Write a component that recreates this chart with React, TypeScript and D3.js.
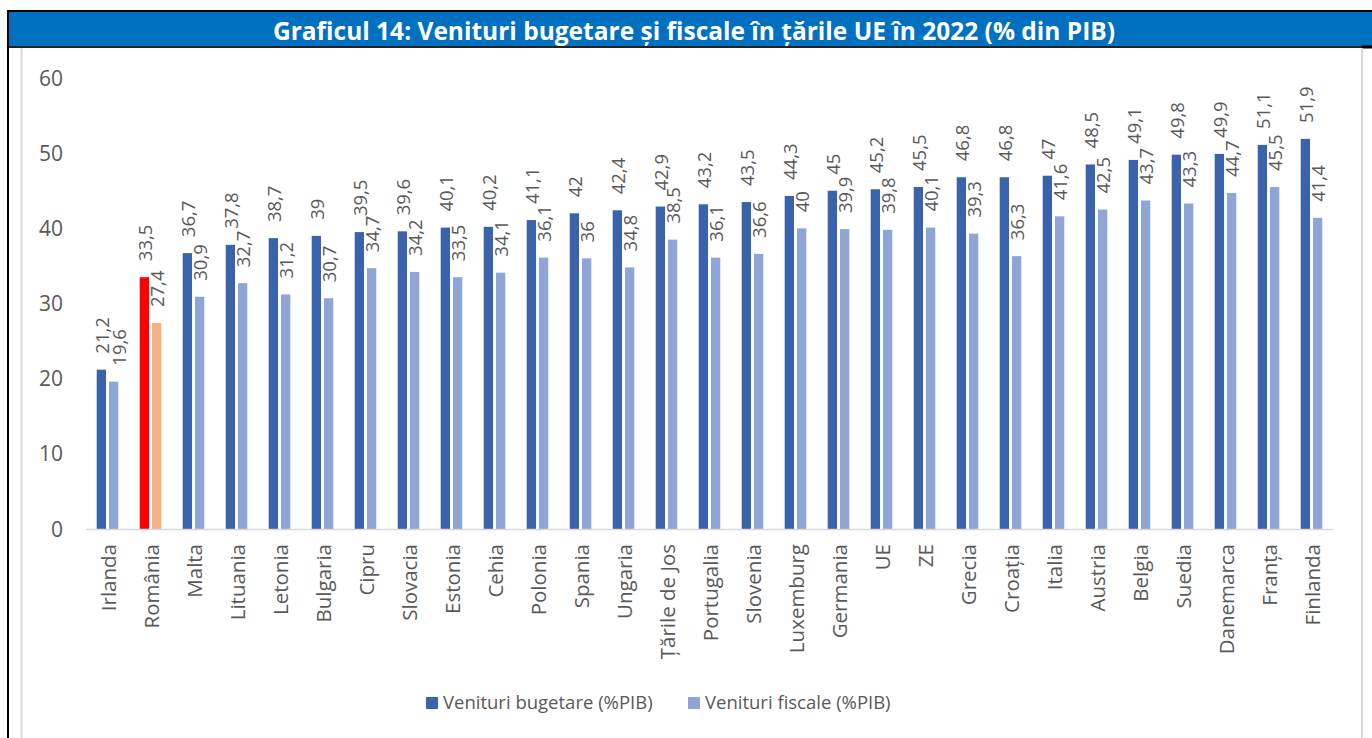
import React from "react";
import * as d3 from "d3";

const categories = ["Irlanda","România","Malta","Lituania","Letonia","Bulgaria","Cipru","Slovacia","Estonia","Cehia","Polonia","Spania","Ungaria","Țările de Jos","Portugalia","Slovenia","Luxemburg","Germania","UE","ZE","Grecia","Croația","Italia","Austria","Belgia","Suedia","Danemarca","Franța","Finlanda"];
const venituriBugetare = [21.2,33.5,36.7,37.8,38.7,39,39.5,39.6,40.1,40.2,41.1,42,42.4,42.9,43.2,43.5,44.3,45,45.2,45.5,46.8,46.8,47,48.5,49.1,49.8,49.9,51.1,51.9];
const venituriFiscale = [19.6,27.4,30.9,32.7,31.2,30.7,34.7,34.2,33.5,34.1,36.1,36,34.8,38.5,36.1,36.6,40,39.9,39.8,40.1,39.3,36.3,41.6,42.5,43.7,43.3,44.7,45.5,41.4];
const yTicks = [0,10,20,30,40,50,60];
const seriesNames = ["Venituri bugetare (%PIB)","Venituri fiscale (%PIB)"];
const title = "Graficul 14: Venituri bugetare și fiscale în țările UE în 2022 (% din PIB)";

const W = 1372, H = 738;
const FONT = "'Open Sans', sans-serif";
const TXT = "#595959";
const C_DARK = "#3B63AB";
const C_LIGHT = "#8FA5D5";
const C_RO_DARK = "#FF0000";
const C_RO_LIGHT = "#F4B183";
const LABEL_FS = 18.5;
const LABEL_GAP = 16;

const fmt = (v: number) => String(v).replace(".", ",");

export default function App() {
  const x = d3.scaleBand<string>().domain(categories).range([86, 1333]).paddingInner(0).paddingOuter(0);
  const keys = ["b", "f"];
  const x1 = d3.scaleBand<string>().domain(keys).range([0, 21.6]).paddingInner(0.24).paddingOuter(0);
  const y = d3.scaleLinear().domain([0, 60]).range([529, 78]);
  const half = x.bandwidth() / 2;
  const labelLen = (s: string) => s.length * LABEL_FS * 0.5;

  return (
    <div style={{ position: "absolute", left: 0, top: 0, width: W, height: H, background: "#fff" }}>
      <svg width={W} height={H} style={{ display: "block" }} fontFamily={FONT}>
        <rect x={0} y={0} width={W} height={H} fill="#fff" />
        {/* title bar */}
        <rect x={9} y={12} width={W - 9} height={34} fill="#0070C0" />
        <line x1={7} x2={W} y1={11} y2={11} stroke="#000" strokeWidth={2} />
        <line x1={8} x2={8} y1={10} y2={H} stroke="#000" strokeWidth={2} />
        <line x1={9} x2={1362} y1={47} y2={47} stroke="#222" strokeWidth={2} />
        <line x1={1362} x2={W} y1={47} y2={47} stroke="#000" strokeWidth={3} />
        <text x={694} y={39.5} textAnchor="middle" fill="#fff" fontWeight={700} fontSize={24.5}>{title}</text>
        {/* chart area border */}
        <line x1={21.5} x2={21.5} y1={48} y2={H} stroke="#D9D9D9" strokeWidth={2} />
        <line x1={1362} x2={1362} y1={48} y2={H} stroke="#D9D9D9" strokeWidth={2} />
        {/* y ticks */}
        {yTicks.map((t) => (
          <text key={t} x={63} y={y(t)} dy="0.36em" textAnchor="end" fill={TXT} fontSize={21}>{t}</text>
        ))}
        {/* bars */}
        {categories.map((c, i) => {
          const gx = (x(c) as number) + half - 10.8;
          const ro = c === "România";
          const vals = [venituriBugetare[i], venituriFiscale[i]];
          // simple collision avoidance between the two labels of a group
          const topDark = y(vals[0]) - LABEL_GAP - labelLen(fmt(vals[0]));
          const bottomLight = y(vals[1]) - LABEL_GAP;
          const overlap = bottomLight - topDark > 0 && y(vals[1]) - y(vals[0]) < 20;
          return (
            <g key={c}>
              {keys.map((k, j) => {
                const bx = gx + (x1(k) as number);
                const v = vals[j];
                const fill = j === 0 ? (ro ? C_RO_DARK : C_DARK) : (ro ? C_RO_LIGHT : C_LIGHT);
                const shift = overlap ? (j === 0 ? 0.3 : 5) : 0;
                return (
                  <g key={k}>
                    <rect x={bx} y={y(v)} width={x1.bandwidth()} height={y(0) - y(v)} fill={fill} />
                    <text transform={`translate(${bx + x1.bandwidth() / 2 + 1.3 + shift},${y(v) - LABEL_GAP}) rotate(-90)`} textAnchor="start" dy="0.35em" fill={TXT} fontSize={LABEL_FS}>{fmt(v)}</text>
                  </g>
                );
              })}
              <text transform={`translate(${(x(c) as number) + half + 1.5},544) rotate(-90)`} textAnchor="end" dy="0.35em" fill={TXT} fontSize={20.5}>{c}</text>
            </g>
          );
        })}
        {/* axis */}
        <line x1={86} x2={1333} y1={529.5} y2={529.5} stroke="#D9D9D9" strokeWidth={1.5} />
        {/* legend */}
        <rect x={426} y={697} width={12} height={12} fill={C_DARK} />
        <text x={443} y={703} dy="0.35em" fill={TXT} fontSize={18.5}>{seriesNames[0]}</text>
        <rect x={688} y={697} width={12} height={12} fill={C_LIGHT} />
        <text x={705} y={703} dy="0.35em" fill={TXT} fontSize={18.5}>{seriesNames[1]}</text>
      </svg>
    </div>
  );
}
